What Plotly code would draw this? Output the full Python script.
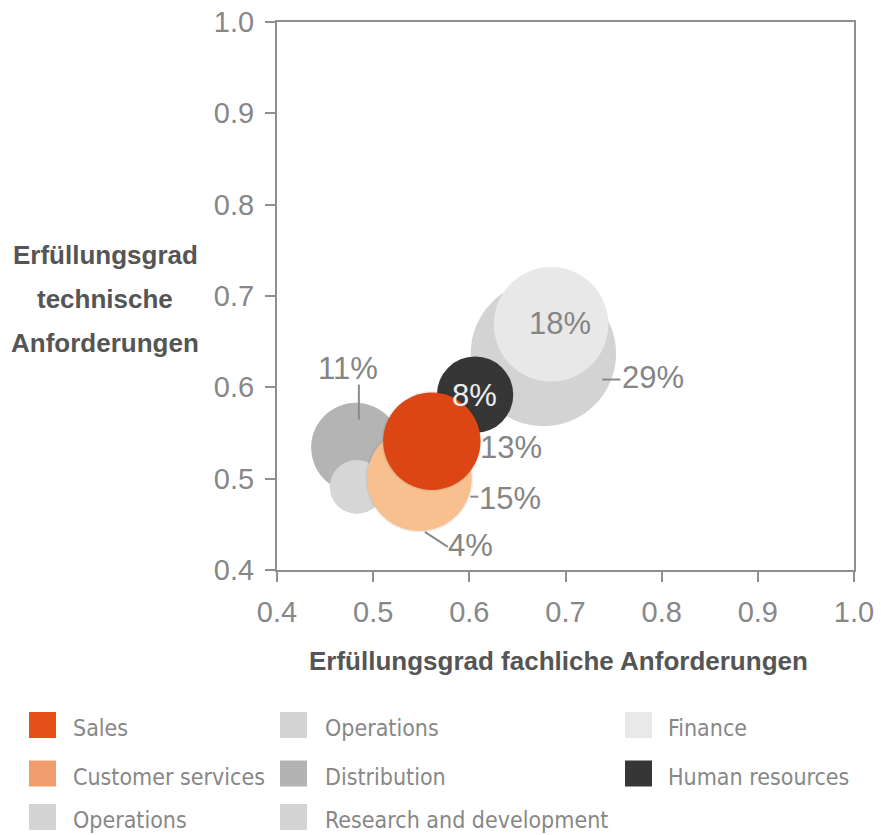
import plotly.graph_objects as go

# ---------------- data ----------------
legend_labels = ["Sales", "Customer services", "Operations", "Operations",
                 "Distribution", "Research and development", "Finance", "Human resources"]
fachlich = [0.561, 0.548, 0.483, 0.677, 0.482, None, 0.685, 0.606]     # x
technisch = [0.541, 0.500, 0.491, 0.637, 0.534, None, 0.669, 0.592]    # y
share_pct = [13, 15, 4, 29, 11, None, 18, 8]
x_ticks = [0.4, 0.5, 0.6, 0.7, 0.8, 0.9, 1.0]
y_ticks = [0.4, 0.5, 0.6, 0.7, 0.8, 0.9, 1.0]
x_title = "Erfüllungsgrad fachliche Anforderungen"
y_title_lines = ["Erfüllungsgrad", "technische", "Anforderungen"]

# ---------------- styles ----------------
bubble_colors = ["#dc4614", "#f8c08e", "#d6d6d6", "#d3d3d3", "#b4b4b4", "#d3d3d3", "#e8e8e8", "#363636"]
swatch_colors = ["#e5511a", "#f19c6b", "#d3d3d3", "#d3d3d3", "#b3b3b3", "#d3d3d3", "#e9e9e9", "#363636"]
draw_order = [3, 6, 7, 4, 2, 1, 0]
shadowed = {0, 1}
label_offsets = {0: (79, 6), 1: (91, 20), 2: (114, 59), 3: (110, 24), 4: (-8, -79), 6: (9, -1), 7: (-1, 1)}
label_colors = {7: "#eeeeee"}
leader_lines = {1: (51, 18, 59, 18), 2: (68, 45, 91, 60), 3: (59, 26, 77, 26), 4: (3, -63, 3, -28)}
legend_cols = [(29, 73), (280, 325), (625, 668)]   # (swatch left, text left) in page px
legend_rows = [725, 773.5, 817]                    # swatch centres in page px
legend_pos = [(0, 0), (0, 1), (0, 2), (1, 0), (1, 1), (1, 2), (2, 0), (2, 1)]

W, H = 881, 835
ML, MR, MT, MB = 277, 27, 22, 265
PW, PH = W - ML - MR, H - MT - MB
SIZEREF = 1 / (2 * 13.5 ** 2)

NUM_FONT = "Liberation Sans, Arial, sans-serif"
LEG_FONT = "DejaVu Sans Condensed, Liberation Sans Narrow, sans-serif"
GRAY_TXT = "#878787"
AX_COL = "#8f8f8f"


def px_x(px):
    return (px - ML) / PW


def px_y(py):
    return (H - MB - py) / PH


fig = go.Figure()

for i in draw_order:
    if i in shadowed:
        fig.add_trace(go.Scatter(
            x=[fachlich[i]], y=[technisch[i]], mode="markers", showlegend=False, hoverinfo="skip",
            marker=dict(size=[share_pct[i]], sizemode="area", sizeref=SIZEREF,
                        color="rgba(0,0,0,0.08)", line=dict(color="rgba(0,0,0,0.08)", width=3)),
        ))
    fig.add_trace(go.Scatter(
        x=[fachlich[i]], y=[technisch[i]], mode="markers", name=legend_labels[i], showlegend=False,
        marker=dict(size=[share_pct[i]], sizemode="area", sizeref=SIZEREF,
                    color=bubble_colors[i], opacity=1, line=dict(width=0)),
        hovertemplate=legend_labels[i] + ": %{x:.2f}, %{y:.2f}<extra></extra>",
    ))

annotations = []
shapes = []

# percentage labels
for i, (dx, dy) in label_offsets.items():
    annotations.append(dict(
        x=fachlich[i], y=technisch[i], xref="x", yref="y", text=f"{share_pct[i]}%",
        showarrow=False, xshift=dx, yshift=-dy, xanchor="center", yanchor="middle",
        font=dict(family=NUM_FONT, size=31, color=label_colors.get(i, "#858585")),
    ))

# leader lines
for i, (x0, y0, x1, y1) in leader_lines.items():
    shapes.append(dict(
        type="line", xref="x", yref="y", xsizemode="pixel", ysizemode="pixel",
        xanchor=fachlich[i], yanchor=technisch[i], x0=x0, x1=x1, y0=-y0, y1=-y1,
        line=dict(color="#8a8a8a", width=2), layer="above",
    ))

# axis titles
annotations.append(dict(
    x=px_x(558.5), y=px_y(661), xref="paper", yref="paper", text=f"<b>{x_title}</b>",
    showarrow=False, xanchor="center", yanchor="middle",
    font=dict(family=NUM_FONT, size=26, color="#555555"),
))
for line, py in zip(y_title_lines, [255, 299, 343]):
    annotations.append(dict(
        x=px_x(105), y=px_y(py), xref="paper", yref="paper", text=f"<b>{line}</b>",
        showarrow=False, xanchor="center", yanchor="middle",
        font=dict(family=NUM_FONT, size=26, color="#555555"),
    ))

# legend (manual, large square swatches)
for i, (c, r) in enumerate(legend_pos):
    sq_x, tx_x = legend_cols[c]
    cy = legend_rows[r]
    shapes.append(dict(
        type="rect", xref="paper", yref="paper",
        x0=px_x(sq_x), x1=px_x(sq_x + 27), y0=px_y(cy + 13), y1=px_y(cy - 13),
        fillcolor=swatch_colors[i], line=dict(width=0), layer="above",
    ))
    annotations.append(dict(
        x=px_x(tx_x - 2), y=px_y(cy + 3), xref="paper", yref="paper", text=legend_labels[i],
        showarrow=False, xanchor="left", yanchor="middle",
        font=dict(family=LEG_FONT, size=23, color=GRAY_TXT),
    ))

axis_common = dict(
    range=[0.4, 1.0], showgrid=False, zeroline=False, showline=True, mirror=True, automargin=False,
    linecolor=AX_COL, linewidth=2, ticks="outside", ticklen=10, tickwidth=2, tickcolor=AX_COL,
    tickfont=dict(family=NUM_FONT, size=29, color=GRAY_TXT), tickformat=".1f",
    ticklabeloverflow="allow",
)

fig.update_layout(
    width=W, height=H, margin=dict(l=ML, r=MR, t=MT, b=MB, pad=0, autoexpand=False),
    paper_bgcolor="white", plot_bgcolor="white", showlegend=False,
    xaxis=dict(**axis_common, tickvals=x_ticks, ticklabelstandoff=5),
    yaxis=dict(**axis_common, tickvals=y_ticks, ticklabelstandoff=5),
    annotations=annotations, shapes=shapes,
)

fig.write_html(
    "out.html",
    config={"displayModeBar": False},
    post_script="document.body.style.margin='0px';document.documentElement.style.overflow='hidden';",
)
